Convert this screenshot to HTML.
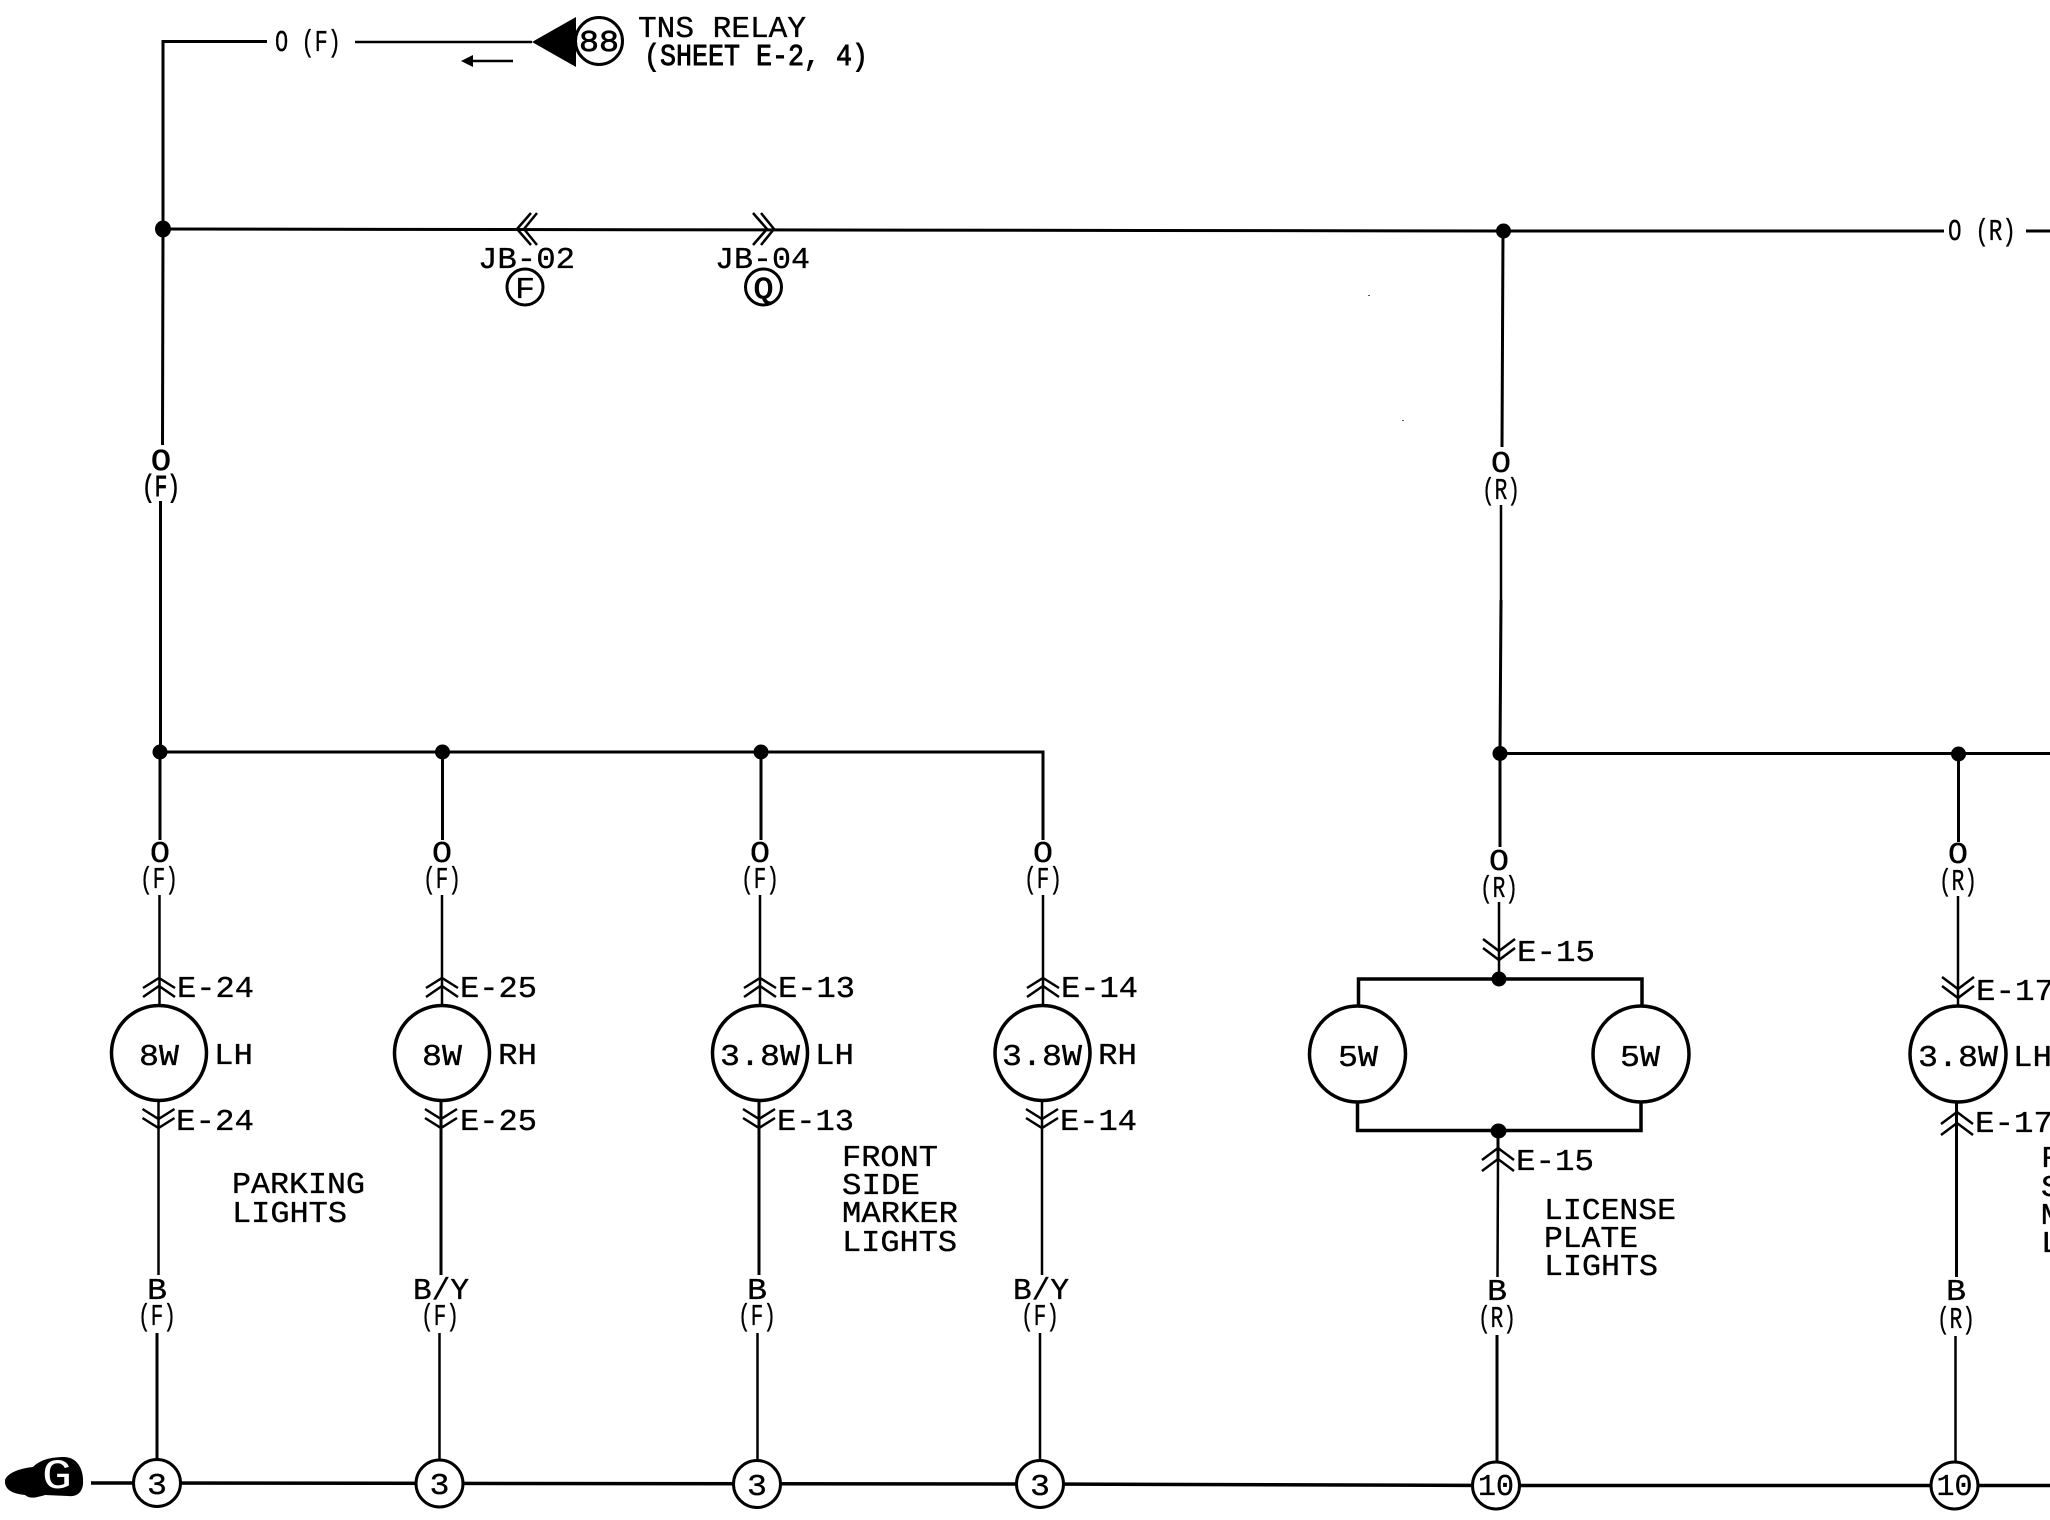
<!DOCTYPE html>
<html><head><meta charset="utf-8"><style>
html,body{margin:0;padding:0;background:#fff}
svg{display:block}
text{font-family:"Liberation Mono","DejaVu Sans Mono",monospace;font-size:31px;fill:#000;stroke:#000;stroke-width:.35}
.w{fill:none;stroke:#000;stroke-width:3}
.t{fill:none;stroke:#000;stroke-width:2.5}
.c{fill:#fff;stroke:#000;stroke-width:3.5}
.s{fill:#fff;stroke:#000;stroke-width:3}
</style></head><body>
<svg width="2050" height="1520" viewBox="0 0 2050 1520" xmlns="http://www.w3.org/2000/svg">
<defs>
<path id="u" class="t" d="M-16 10L0 0L16 10M-16 19L0 8L16 19"/>
<path id="d" class="t" d="M-16 -19L0 -9L16 -19M-16 -10L0 0L16 -10"/>
</defs>
<rect width="2050" height="1520" fill="#fff"/>

<!-- top feed -->
<path class="w" d="M267 41.500H163V229"/>
<path class="t" d="M355 42H532"/>
<polygon points="532,42 576,17 576,67" fill="#000"/>
<circle class="s" cx="599" cy="41" r="23.500"/>
<text x="599" y="51" text-anchor="middle" textLength="40" lengthAdjust="spacingAndGlyphs" style="stroke-width:.7">88</text>
<text x="275" y="51" textLength="66" lengthAdjust="spacingAndGlyphs">O (F)</text>
<text x="638" y="37" textLength="168" lengthAdjust="spacingAndGlyphs">TNS RELAY</text>
<text x="644" y="65" textLength="224" lengthAdjust="spacingAndGlyphs" style="stroke-width:.9">(SHEET E-2, 4)</text>
<path class="t" d="M513 61H470"/>
<polygon points="461,61 473,55 473,67" fill="#000"/>

<!-- main bus -->
<path class="w" d="M163 229L1503.500 231H1944"/>
<path class="w" d="M2026 231H2050"/>
<text x="1948" y="240" textLength="68" lengthAdjust="spacingAndGlyphs">O (R)</text>
<ellipse cx="163" cy="229" rx="8" ry="8.500" fill="#000"/>
<circle cx="1503.500" cy="231" r="7.500" fill="#000"/>
<path class="t" d="M531 213L517 229L531 245M537 213L524 229L537 245"/>
<path class="t" d="M753 213L767 229L753 245M761 213L774 229L761 245"/>
<text x="478" y="268" textLength="97" lengthAdjust="spacingAndGlyphs">JB-02</text>
<text x="715" y="268" textLength="95" lengthAdjust="spacingAndGlyphs">JB-04</text>
<circle class="s" cx="525" cy="287" r="18"/>
<circle class="s" cx="763.500" cy="287" r="18"/>
<text x="525" y="298" text-anchor="middle" textLength="20" lengthAdjust="spacingAndGlyphs">F</text>
<text x="763.500" y="298" text-anchor="middle" textLength="20" lengthAdjust="spacingAndGlyphs" style="stroke-width:.9">Q</text>

<!-- left riser -->
<path class="w" d="M163 229L162.500 445M160.500 501V752"/>
<text x="161" y="470" text-anchor="middle" textLength="20" lengthAdjust="spacingAndGlyphs" style="stroke-width:.7">O</text>
<text x="161" y="496" text-anchor="middle" textLength="38" lengthAdjust="spacingAndGlyphs" style="stroke-width:.9">(F)</text>

<!-- front horizontal -->
<path class="w" d="M160 752H1043V840"/>
<circle cx="160" cy="752" r="7.500" fill="#000"/>
<circle cx="442.500" cy="752" r="7.500" fill="#000"/>
<circle cx="761" cy="752" r="7.500" fill="#000"/>
<path class="w" d="M160 752V840M442.500 752V840M761 752V840"/>

<!-- column 1 -->
<text x="160" y="862" text-anchor="middle" textLength="20" lengthAdjust="spacingAndGlyphs">O</text>
<text x="159" y="888" text-anchor="middle" textLength="38" lengthAdjust="spacingAndGlyphs">(F)</text>
<path class="t" d="M159.500 895V1005"/>
<use href="#u" x="159" y="978"/>
<circle class="c" cx="159" cy="1053" r="47.500"/>
<text x="159" y="1065" text-anchor="middle" textLength="40" lengthAdjust="spacingAndGlyphs">8W</text>
<text x="177" y="997" textLength="77" lengthAdjust="spacingAndGlyphs">E-24</text>
<text x="214" y="1064" textLength="39" lengthAdjust="spacingAndGlyphs">LH</text>
<path class="t" d="M158.500 1101V1275"/>
<use href="#d" x="158.500" y="1128"/>
<text x="176" y="1130" textLength="78" lengthAdjust="spacingAndGlyphs">E-24</text>
<text x="157" y="1299" text-anchor="middle" textLength="20" lengthAdjust="spacingAndGlyphs">B</text>
<text x="157" y="1325" text-anchor="middle" textLength="38" lengthAdjust="spacingAndGlyphs">(F)</text>
<path class="w" d="M157 1333V1459"/>
<text x="232" y="1193" textLength="133" lengthAdjust="spacingAndGlyphs">PARKING</text>
<text x="232" y="1222" textLength="115" lengthAdjust="spacingAndGlyphs">LIGHTS</text>

<!-- column 2 -->
<text x="442" y="862" text-anchor="middle" textLength="20" lengthAdjust="spacingAndGlyphs">O</text>
<text x="442" y="888" text-anchor="middle" textLength="38" lengthAdjust="spacingAndGlyphs">(F)</text>
<path class="t" d="M442 895V1005"/>
<use href="#u" x="442" y="978"/>
<circle class="c" cx="442" cy="1053" r="47.500"/>
<text x="442" y="1065" text-anchor="middle" textLength="40" lengthAdjust="spacingAndGlyphs">8W</text>
<text x="460" y="997" textLength="77" lengthAdjust="spacingAndGlyphs">E-25</text>
<text x="498" y="1064" textLength="39" lengthAdjust="spacingAndGlyphs">RH</text>
<path class="w" d="M441 1101V1275"/>
<use href="#d" x="441" y="1128"/>
<text x="460" y="1130" textLength="77" lengthAdjust="spacingAndGlyphs">E-25</text>
<text x="441" y="1299" text-anchor="middle" textLength="56" lengthAdjust="spacingAndGlyphs">B/Y</text>
<text x="440" y="1325" text-anchor="middle" textLength="38" lengthAdjust="spacingAndGlyphs">(F)</text>
<path class="t" d="M439.500 1333V1459"/>

<!-- column 3 -->
<text x="760" y="862" text-anchor="middle" textLength="20" lengthAdjust="spacingAndGlyphs">O</text>
<text x="760" y="888" text-anchor="middle" textLength="38" lengthAdjust="spacingAndGlyphs">(F)</text>
<path class="t" d="M760 895V1005"/>
<use href="#u" x="760" y="978"/>
<circle class="c" cx="760" cy="1053" r="47.500"/>
<text x="760" y="1065" text-anchor="middle" textLength="80" lengthAdjust="spacingAndGlyphs">3.8W</text>
<text x="778" y="997" textLength="77" lengthAdjust="spacingAndGlyphs">E-13</text>
<text x="815" y="1064" textLength="39" lengthAdjust="spacingAndGlyphs">LH</text>
<path class="w" d="M759 1101V1275"/>
<use href="#d" x="759" y="1128"/>
<text x="777" y="1130" textLength="77" lengthAdjust="spacingAndGlyphs">E-13</text>
<text x="757" y="1299" text-anchor="middle" textLength="20" lengthAdjust="spacingAndGlyphs">B</text>
<text x="757" y="1325" text-anchor="middle" textLength="38" lengthAdjust="spacingAndGlyphs">(F)</text>
<path class="t" d="M757.500 1333V1459"/>
<text x="842" y="1166" textLength="96" lengthAdjust="spacingAndGlyphs">FRONT</text>
<text x="842" y="1194" textLength="78" lengthAdjust="spacingAndGlyphs">SIDE</text>
<text x="842" y="1222" textLength="116" lengthAdjust="spacingAndGlyphs">MARKER</text>
<text x="842" y="1251" textLength="115" lengthAdjust="spacingAndGlyphs">LIGHTS</text>

<!-- column 4 -->
<text x="1043" y="862" text-anchor="middle" textLength="20" lengthAdjust="spacingAndGlyphs">O</text>
<text x="1043" y="888" text-anchor="middle" textLength="38" lengthAdjust="spacingAndGlyphs">(F)</text>
<path class="t" d="M1043 895V1005"/>
<use href="#u" x="1043" y="978"/>
<circle class="c" cx="1042.500" cy="1053" r="47.500"/>
<text x="1042" y="1065" text-anchor="middle" textLength="80" lengthAdjust="spacingAndGlyphs">3.8W</text>
<text x="1061" y="997" textLength="77" lengthAdjust="spacingAndGlyphs">E-14</text>
<text x="1098" y="1064" textLength="39" lengthAdjust="spacingAndGlyphs">RH</text>
<path class="t" d="M1042 1101V1275"/>
<use href="#d" x="1042" y="1128"/>
<text x="1060" y="1130" textLength="77" lengthAdjust="spacingAndGlyphs">E-14</text>
<text x="1041" y="1299" text-anchor="middle" textLength="56" lengthAdjust="spacingAndGlyphs">B/Y</text>
<text x="1040" y="1325" text-anchor="middle" textLength="38" lengthAdjust="spacingAndGlyphs">(F)</text>
<path class="t" d="M1040 1333V1459"/>

<!-- right riser -->
<path class="w" d="M1503 231L1502 447"/>
<text x="1501" y="472" text-anchor="middle" textLength="20" lengthAdjust="spacingAndGlyphs">O</text>
<text x="1501" y="499" text-anchor="middle" textLength="38" lengthAdjust="spacingAndGlyphs">(R)</text>
<path class="t" d="M1501 505V600"/>
<path class="w" d="M1501 600L1500 753V847"/>
<path class="w" d="M1500 753.500H2050"/>
<circle cx="1500" cy="753.500" r="7.500" fill="#000"/>
<circle cx="1958.500" cy="754" r="7.500" fill="#000"/>

<!-- license plate -->
<text x="1499" y="870" text-anchor="middle" textLength="20" lengthAdjust="spacingAndGlyphs">O</text>
<text x="1499" y="897" text-anchor="middle" textLength="38" lengthAdjust="spacingAndGlyphs">(R)</text>
<path class="t" d="M1499 902V979"/>
<path class="t" d="M-16 -19L0 -7L16 -19M-16 -10L0 2L16 -10" transform="translate(1499 958)"/>
<text x="1517" y="961" textLength="78" lengthAdjust="spacingAndGlyphs">E-15</text>
<path class="w" d="M1358.500 1006V979H1642V1006" style="stroke-width:3.500"/>
<circle cx="1499" cy="979" r="7.500" fill="#000"/>
<circle class="c" cx="1357.500" cy="1054" r="48"/>
<circle class="c" cx="1641" cy="1054" r="48"/>
<text x="1358" y="1066" text-anchor="middle" textLength="40" lengthAdjust="spacingAndGlyphs">5W</text>
<text x="1640" y="1066" text-anchor="middle" textLength="40" lengthAdjust="spacingAndGlyphs">5W</text>
<path class="w" d="M1357.500 1102V1130.500H1641V1102" style="stroke-width:3.500"/>
<ellipse cx="1498.500" cy="1131" rx="8" ry="7.500" fill="#000"/>
<path class="w" d="M1498 1131V1160"/>
<path class="t" d="M-16 11L0 -1L16 11M-16 22L0 10L16 22" transform="translate(1498 1149)"/>
<text x="1516" y="1170" textLength="78" lengthAdjust="spacingAndGlyphs">E-15</text>
<path class="t" d="M1498 1160L1497.500 1277"/>
<text x="1497" y="1300" text-anchor="middle" textLength="20" lengthAdjust="spacingAndGlyphs">B</text>
<text x="1497" y="1327" text-anchor="middle" textLength="38" lengthAdjust="spacingAndGlyphs">(R)</text>
<path class="w" d="M1497 1335V1461"/>
<text x="1544" y="1219" textLength="132" lengthAdjust="spacingAndGlyphs">LICENSE</text>
<text x="1544" y="1247" textLength="94" lengthAdjust="spacingAndGlyphs">PLATE</text>
<text x="1544" y="1275" textLength="114" lengthAdjust="spacingAndGlyphs">LIGHTS</text>

<!-- right column -->
<path class="w" d="M1958.500 754V842"/>
<text x="1958" y="863" text-anchor="middle" textLength="20" lengthAdjust="spacingAndGlyphs">O</text>
<text x="1958" y="890" text-anchor="middle" textLength="38" lengthAdjust="spacingAndGlyphs">(R)</text>
<path class="t" d="M1958 896V1006"/>
<path class="t" d="M-16 -19L0 -7L16 -19M-16 -10L0 2L16 -10" transform="translate(1958 996)"/>
<text x="1976" y="1000" textLength="78" lengthAdjust="spacingAndGlyphs">E-17</text>
<circle class="c" cx="1958" cy="1054" r="48"/>
<text x="1958" y="1066" text-anchor="middle" textLength="80" lengthAdjust="spacingAndGlyphs">3.8W</text>
<text x="2013" y="1066" textLength="39" lengthAdjust="spacingAndGlyphs">LH</text>
<path class="w" d="M1956.500 1102V1277"/>
<path class="t" d="M-16 11L0 -1L16 11M-16 22L0 10L16 22" transform="translate(1957 1113)"/>
<text x="1975" y="1132" textLength="78" lengthAdjust="spacingAndGlyphs">E-17</text>
<text x="2041" y="1167" textLength="96" lengthAdjust="spacingAndGlyphs">FRONT</text>
<text x="2041" y="1196" textLength="78" lengthAdjust="spacingAndGlyphs">SIDE</text>
<text x="2041" y="1224" textLength="116" lengthAdjust="spacingAndGlyphs">MARKER</text>
<text x="2041" y="1252" textLength="116" lengthAdjust="spacingAndGlyphs">LIGHTS</text>
<text x="1956" y="1300" text-anchor="middle" textLength="20" lengthAdjust="spacingAndGlyphs">B</text>
<text x="1956" y="1328" text-anchor="middle" textLength="38" lengthAdjust="spacingAndGlyphs">(R)</text>
<path class="t" d="M1955.500 1336V1461"/>

<!-- ground bus -->
<path class="w" d="M91 1483L1040 1484L1496 1485.500H2050" style="stroke-width:3.500"/>
<path d="M5 1480C8 1472 22 1468 33 1467C40 1460 50 1457 65 1457C78 1458 84 1470 83 1484C82 1494 75 1497 68 1496L45 1495C35 1498 30 1499 25 1495C15 1494 4 1491 5 1480Z" fill="#000"/>
<text x="57" y="1488" text-anchor="middle" textLength="30" lengthAdjust="spacingAndGlyphs" style="fill:#fff;stroke:none;font-size:42px">G</text>
<circle class="s" cx="157" cy="1483" r="23.500"/>
<circle class="s" cx="439.500" cy="1483.500" r="23.500"/>
<circle class="s" cx="757" cy="1484" r="23.500"/>
<circle class="s" cx="1040" cy="1484" r="23.500"/>
<circle class="s" cx="1496" cy="1485.500" r="23.500"/>
<circle class="s" cx="1954.500" cy="1485.500" r="23.500"/>
<text x="157" y="1494" text-anchor="middle" textLength="20" lengthAdjust="spacingAndGlyphs">3</text>
<text x="439.500" y="1494" text-anchor="middle" textLength="20" lengthAdjust="spacingAndGlyphs">3</text>
<text x="757" y="1495" text-anchor="middle" textLength="20" lengthAdjust="spacingAndGlyphs">3</text>
<text x="1040" y="1495" text-anchor="middle" textLength="20" lengthAdjust="spacingAndGlyphs">3</text>
<text x="1496" y="1495" text-anchor="middle" textLength="36" lengthAdjust="spacingAndGlyphs">10</text>
<text x="1954.500" y="1495" text-anchor="middle" textLength="36" lengthAdjust="spacingAndGlyphs">10</text>

<!-- specks -->
<rect x="1368" y="295" width="2" height="1" fill="#555"/>
<rect x="1402" y="420" width="2" height="1" fill="#555"/>
</svg>
</body></html>
